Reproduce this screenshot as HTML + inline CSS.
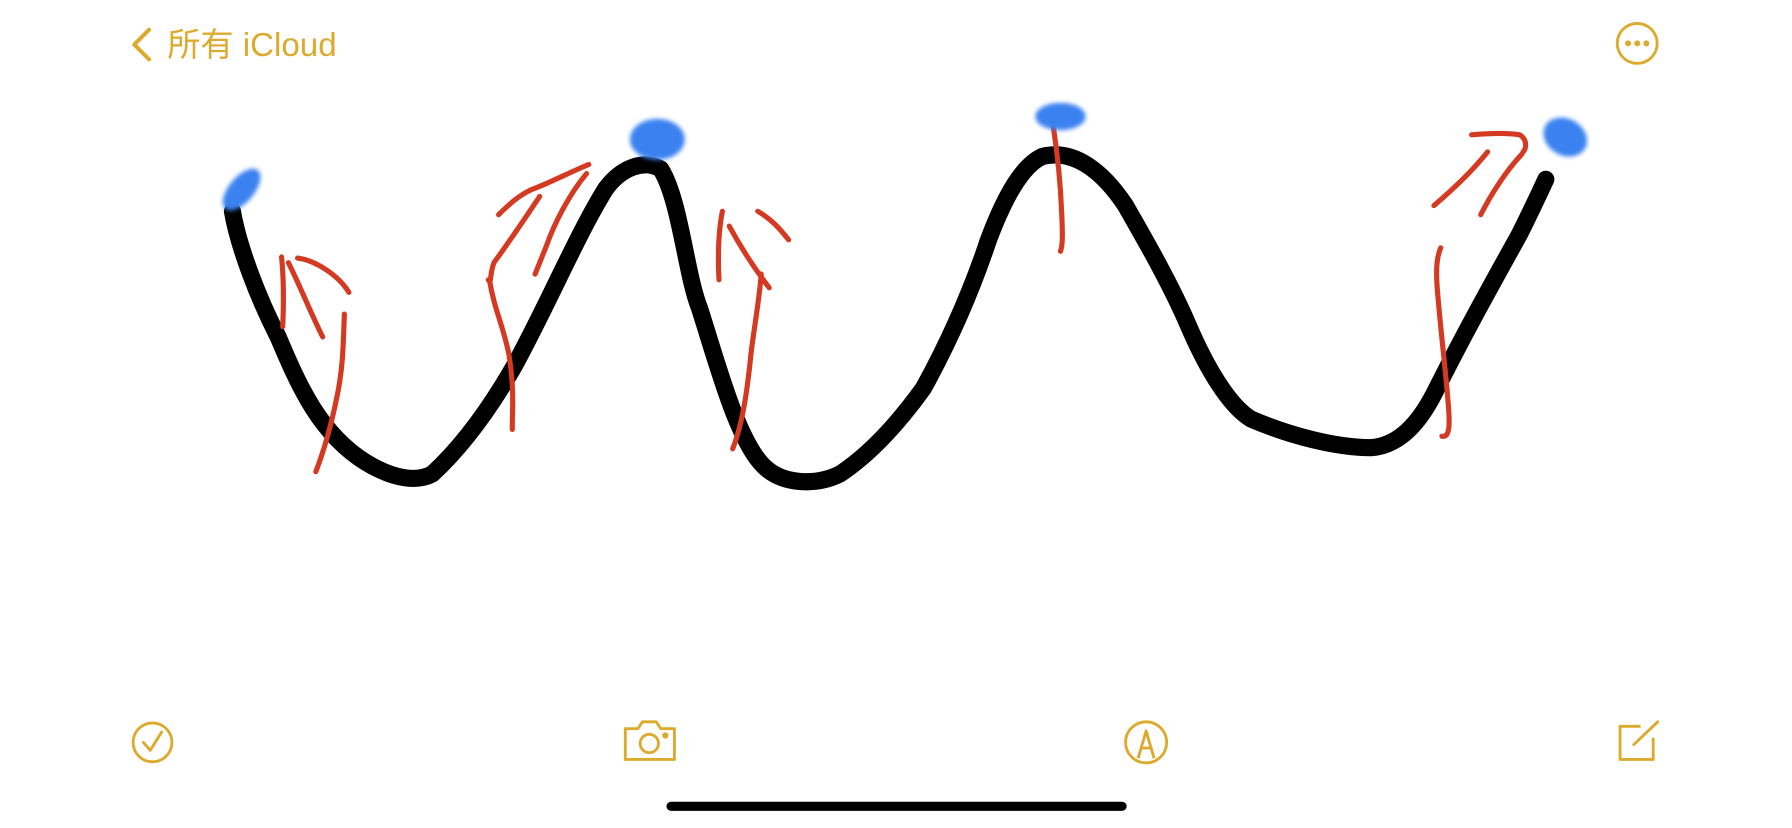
<!DOCTYPE html>
<html><head><meta charset="utf-8"><style>
html,body{margin:0;padding:0;background:#fff;width:1792px;height:828px;overflow:hidden}
svg{display:block}
text{font-family:"Liberation Sans","Noto Sans CJK SC",sans-serif}
</style></head><body>
<svg width="1792" height="828" viewBox="0 0 1568 725" xmlns="http://www.w3.org/2000/svg">
<defs><filter id="blur" x="-50%" y="-50%" width="200%" height="200%"><feGaussianBlur stdDeviation="1.8"/></filter></defs>
<g>
<path d="M130 26 L117 39 L130 52" fill="none" stroke="#dcaa2c" stroke-width="3.5" stroke-linecap="round" stroke-linejoin="round"/>
<text x="146" y="49" font-size="29" fill="#dcaa2c">所有 iCloud</text>
</g>
<g>
<circle cx="1433" cy="38" r="17.5" fill="none" stroke="#dcaa2c" stroke-width="2.5"/>
<circle cx="1425" cy="38" r="2.6" fill="#dcaa2c"/><circle cx="1433" cy="38" r="2.6" fill="#dcaa2c"/><circle cx="1441" cy="38" r="2.6" fill="#dcaa2c"/>
</g>
<path fill="none" stroke="#000" stroke-linecap="round" stroke-linejoin="round" stroke-width="15" d="M203 185 C208 215 225 260 243 295 C262 340 280 380 320 405 C345 420 365 422 378 415 C405 390 430 355 450 320 C480 265 505 205 530 165 C545 145 565 140 578 148 C595 175 600 240 612 270 C628 320 645 385 668 408 C685 425 715 425 735 415 C765 395 790 365 808 340 C830 300 850 255 865 210 C880 170 895 145 912 137 C940 130 965 150 985 180 C1005 215 1025 250 1040 285 C1055 320 1075 355 1095 367 C1130 382 1170 392 1200 392 C1225 390 1242 370 1255 345 C1280 295 1305 250 1330 205 C1340 185 1347 170 1353 157"/>
<g fill="none" stroke="#d43a22" stroke-width="4.5" stroke-linecap="round" stroke-linejoin="round">
<path d="M246 225 C248 245 248 265 247 286"/>
<path d="M252 230 C262 250 272 275 282 295"/>
<path d="M260 226 C275 228 295 240 305 256"/>
<path d="M301 275 C300 300 300 320 295 345 C290 370 283 395 276 413"/>
<path d="M436 188 C448 176 458 168 470 164 C485 158 500 150 515 144"/>
<path d="M472 172 C460 190 445 212 432 230 C428 240 430 250 427 245"/>
<path d="M513 152 C498 170 485 195 478 215 C474 225 470 235 468 240"/>
<path d="M428 245 C432 270 440 285 445 310 C450 340 448 360 448 376"/>
<path d="M632 185 C628 205 628 225 629 245"/>
<path d="M638 198 C650 220 660 235 673 252"/>
<path d="M663 185 C675 192 682 200 690 210"/>
<path d="M666 240 C664 265 660 285 657 310 C654 340 650 370 641 393"/>
<path d="M920 100 C925 130 928 160 929 185 C930 205 930 215 928 220"/>
<path d="M1255 180 C1275 163 1290 148 1302 133"/>
<path d="M1288 118 C1300 117 1318 116 1330 118 C1337 122 1336 130 1333 133"/>
<path d="M1332 135 C1318 150 1305 170 1296 188"/>
<path d="M1261 217 C1256 228 1257 245 1259 265 C1262 300 1266 330 1268 360 C1269 375 1268 383 1262 382"/>
</g>
<g fill="#3b82f0" filter="url(#blur)">
<ellipse cx="211" cy="166" rx="11" ry="22" transform="rotate(40 211 166)"/>
<ellipse cx="575" cy="122" rx="24" ry="18"/>
<ellipse cx="928" cy="102" rx="22" ry="12"/>
<ellipse cx="1370" cy="120" rx="20" ry="16" transform="rotate(30 1370 120)"/>
</g>
<g>
<circle cx="133" cy="650" r="17" fill="none" stroke="#dcaa2c" stroke-width="2.5"/>
<path d="M125 650 L131 657 L141 641" fill="none" stroke="#dcaa2c" stroke-width="2.5" stroke-linecap="round" stroke-linejoin="round"/>
</g>
<g fill="none" stroke="#dcaa2c" stroke-width="2.5">
<path d="M547 638 H558 L562 632 H574 L578 638 H590 V665 H547 Z" stroke-linejoin="round"/>
<circle cx="568" cy="651" r="8"/><circle cx="582" cy="644" r="1.5" fill="#dcaa2c"/>
</g>
<g fill="none" stroke="#dcaa2c" stroke-width="2.5">
<circle cx="1003" cy="650" r="18"/>
<path d="M996 664 L1003 640 L1010 664 M999 655 H1007" stroke-linejoin="round"/>
</g>
<g fill="none" stroke="#dcaa2c" stroke-width="2.5">
<path d="M1436 636 H1418 V665 H1447 V646" stroke-linejoin="round"/>
<path d="M1430 652 L1451 632" stroke-linecap="round"/>
</g>
<rect x="583" y="702" width="403" height="8" rx="4" fill="#000"/>
</svg>
</body></html>
